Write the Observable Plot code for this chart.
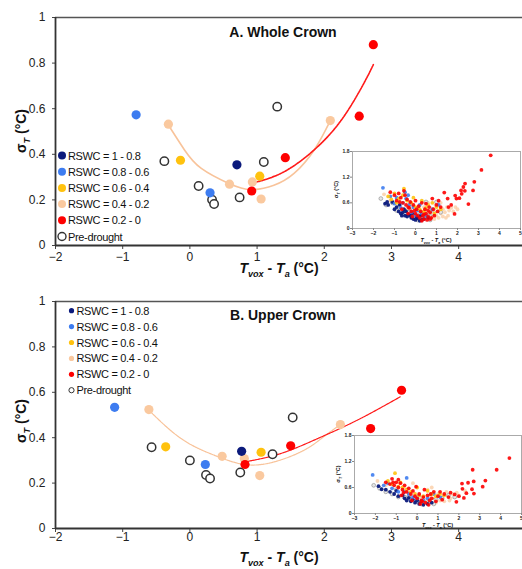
<!DOCTYPE html>
<html><head><meta charset="utf-8">
<script src="https://cdn.jsdelivr.net/npm/d3@7"></script>
<script src="https://cdn.jsdelivr.net/npm/@observablehq/plot@0.6"></script>
<style>
body{margin:0;background:#fff;}
#wrap{position:relative;width:522px;height:569px;overflow:hidden;font-family:"Liberation Sans",Arial,sans-serif;}
#wrap svg{position:absolute;display:block;overflow:visible;}
</style></head><body><div id="wrap"></div>
<script>
// ---------- categories ----------
const groups = ["RSWC = 1 - 0.8","RSWC = 0.8 - 0.6","RSWC = 0.6 - 0.4","RSWC = 0.4 - 0.2","RSWC = 0.2 - 0","Pre-drought"];
const groupColors = ["#0b1a7c","#3d7cf0","#ffc20e","#fac99f","#fe0000","#ffffff"];
const xTicks = [-2,-1,0,1,2,3,4];
const yTicks = [0,0.2,0.4,0.6,0.8,1];
const insetXTicks = [-3,-2,-1,0,1,2,3,4,5];
const insetYTicks = [0,0.6,1.2,1.8];

// ---------- A. Whole Crown (group index, x, y) ----------
const wholeGroup = [5,5,5,5,5,5,5, 3,3,3,3,3, 2,2, 1,1, 0, 4,4,4,4];
const wholeX = [1.30,-0.38,1.10,0.13,0.33,0.36,0.74, -0.32,2.09,0.59,0.93,1.06, -0.14,1.04, -0.80,0.30, 0.70, 2.73,2.52,1.42,0.92];
const wholeY = [0.609,0.370,0.366,0.261,0.201,0.182,0.211, 0.532,0.548,0.269,0.279,0.204, 0.374,0.304, 0.573,0.231, 0.354, 0.881,0.567,0.385,0.239];
const wholePeachCurveX = [-0.33,-0.08,0.17,0.58,0.91,1.25,1.55,1.85,2.09];
const wholePeachCurveY = [0.533,0.419,0.338,0.272,0.245,0.264,0.316,0.419,0.548];
const wholeRedCurveX = [0.91,1.40,1.90,2.29,2.59,2.73];
const wholeRedCurveY = [0.272,0.323,0.433,0.565,0.712,0.793];

// ---------- B. Upper Crown ----------
const upperGroup = [5,5,5,5,5,5,5, 3,3,3,3,3, 2,2, 1,1, 0, 4,4,4,4];
const upperX = [1.53,-0.57,1.23,0.00,0.75,0.24,0.30, -0.61,2.24,0.48,0.81,1.04, -0.36,1.06, -1.12,0.23, 0.77, 3.15,2.69,1.50,0.82];
const upperY = [0.489,0.358,0.327,0.300,0.247,0.236,0.220, 0.524,0.458,0.318,0.308,0.233, 0.360,0.336, 0.534,0.282, 0.340, 0.609,0.440,0.364,0.282];
const upperPeachCurveX = [-0.62,-0.13,0.36,0.81,1.25,1.70,1.99,2.24];
const upperPeachCurveY = [0.524,0.396,0.323,0.282,0.293,0.345,0.404,0.458];
const upperRedCurveX = [0.81,1.35,1.90,2.49,3.13];
const upperRedCurveY = [0.293,0.330,0.396,0.477,0.580];

// ---------- inset A (all observations) ----------
const insetWholeNavy = [[-1.45,0.58],[-1.35,0.62],[-1.3,0.55],[-1.0,0.45],[-0.9,0.5],[-0.8,0.4],[-0.7,0.35],[-0.6,0.38],[-0.5,0.3],[-0.4,0.28],[-0.35,0.33],[-0.2,0.25],[-0.1,0.22],[0,0.2],[0.1,0.24],[0.2,0.18],[0.3,0.2],[-0.55,0.45],[-0.25,0.3],[0.05,0.28],[0.4,0.22],[0.6,0.25],[-0.75,0.55],[-1.1,0.62],[-0.65,0.3],[-0.15,0.35],[0.25,0.3],[-0.45,0.4]];
const insetWholeBlue = [[-1.55,0.95],[-1.2,0.75],[-0.9,0.72],[-0.6,0.6],[-0.45,0.7],[-0.3,0.55],[-0.1,0.5],[0.1,0.42],[-0.7,0.48],[-1.0,0.58],[0.3,0.35],[0.5,0.3],[-0.2,0.38],[0.8,0.45],[1.1,0.55],[-0.5,0.85],[0,0.32],[-0.35,0.78],[0.2,0.55]];
const insetWholeYellow = [[-0.55,0.93],[-1.3,0.75],[-1.0,0.82],[-0.8,0.7],[-0.6,0.78],[-0.4,0.65],[-0.2,0.6],[0,0.5],[0.2,0.45],[0.4,0.4],[0.6,0.55],[0.8,0.6],[1.0,0.5],[-0.9,0.6],[0.3,0.65],[-0.1,0.72],[0.9,0.35],[1.2,0.45],[-1.15,0.68],[0.5,0.48]];
const insetWholePeach = [[-1.5,0.8],[-1.2,0.65],[0.3,0.3],[0.5,0.25],[0.6,0.35],[0.7,0.2],[0.8,0.28],[0.9,0.38],[1.0,0.3],[1.1,0.42],[1.2,0.35],[1.3,0.45],[1.4,0.38],[1.5,0.5],[1.6,0.42],[1.7,0.48],[1.8,0.4],[1.9,0.5],[0.2,0.4],[0.4,0.5],[0.6,0.6],[0.1,0.22],[-0.3,0.45],[0.9,0.22],[1.1,0.25],[1.3,0.28],[0.7,0.48],[1.55,0.3],[2.0,0.45],[1.2,0.6],[-0.8,0.6],[1.45,0.25],[0.95,0.55]];
const insetWholeRed = [[-1.2,0.85],[-1.0,0.78],[-0.9,0.65],[-0.8,0.82],[-0.7,0.72],[-0.6,0.6],[-0.5,0.78],[-0.45,0.55],[-0.4,0.68],[-0.3,0.48],[-0.25,0.62],[-0.2,0.4],[-0.1,0.55],[0,0.35],[0.05,0.45],[0.1,0.3],[0.15,0.52],[0.2,0.25],[0.25,0.4],[0.3,0.6],[0.35,0.3],[0.4,0.22],[0.45,0.45],[0.5,0.35],[0.55,0.2],[0.6,0.28],[0.65,0.5],[0.7,0.38],[0.75,0.25],[0.8,0.7],[0.85,0.45],[0.9,0.3],[1.0,0.55],[1.05,0.4],[1.1,0.65],[1.2,0.5],[-0.65,0.45],[-0.35,0.35],[0.0,0.65],[0.5,0.58],[-0.15,0.28],[0.3,0.18],[0.6,0.42],[-0.55,0.88],[-0.75,0.62],[-0.05,0.42],[0.4,0.33],[0.7,0.22],[-0.35,0.5],
  [3.58,1.71],[3.14,1.37],[2.80,1.09],[2.74,0.89],[2.36,1.05],[2.28,0.97],[2.17,0.89],[2.2,0.81],[2.09,0.71],[2.52,0.57],[1.89,0.77],[1.95,0.7],[1.53,0.70],[1.37,0.84],[1.57,0.5],[1.86,0.34],[1.7,0.55],[2.35,0.88]];
const insetWholeGray = [[-1.65,0.7],[-1.4,0.55],[-1.1,0.6],[-0.8,0.5],[-0.5,0.42],[-0.3,0.38],[0,0.28],[0.2,0.32],[0.4,0.25],[0.6,0.3],[0.8,0.35],[1.0,0.62],[0.5,0.62],[-0.9,0.42],[0.1,0.2],[0.7,0.2],[1.2,0.38],[-0.2,0.5]];

// ---------- inset B ----------
const insetUpperNavy = [[-1.85,0.63],[-1.7,0.56],[-1.5,0.55],[-1.3,0.5],[-1.1,0.45],[-0.9,0.4],[-0.7,0.42],[-0.5,0.3],[-0.3,0.28],[-0.1,0.25],[0.1,0.22],[0.3,0.2],[0.5,0.22],[-0.6,0.35],[-0.2,0.32],[0.2,0.28],[-1.0,0.52],[0.7,0.25],[-0.4,0.36],[0.0,0.3]];
const insetUpperBlue = [[-2.13,0.89],[-1.6,0.65],[-1.2,0.58],[-0.9,0.5],[-0.6,0.5],[-0.4,0.45],[-0.2,0.38],[0,0.35],[0.3,0.3],[-0.5,0.82],[0.5,0.35],[0.8,0.45],[-1.4,0.7],[0.1,0.42],[1.1,0.38]];
const insetUpperYellow = [[-1.06,0.93],[-1.4,0.75],[-1.2,0.68],[-0.9,0.62],[-0.7,0.6],[-0.5,0.55],[-0.3,0.5],[-0.1,0.45],[0.1,0.42],[0.3,0.4],[0.5,0.52],[0.7,0.45],[0.9,0.4],[1.1,0.45],[1.3,0.42],[-0.8,0.72],[0.0,0.6]];
const insetUpperPeach = [[-1.9,0.75],[-1.5,0.65],[-0.6,0.6],[-0.2,0.7],[0.2,0.35],[0.4,0.3],[0.6,0.4],[0.8,0.35],[1.0,0.45],[1.2,0.38],[1.4,0.5],[1.5,0.4],[1.6,0.35],[1.7,0.45],[1.8,0.38],[1.9,0.48],[2.0,0.42],[2.3,0.52],[0.9,0.25],[1.1,0.3],[1.3,0.28],[0.5,0.55],[0.7,0.6],[-0.4,0.45],[0.0,0.3],[1.55,0.3]];
const insetUpperRed = [[-1.5,0.72],[-1.3,0.68],[-1.2,0.8],[-1.1,0.65],[-1.0,0.72],[-0.9,0.6],[-0.8,0.7],[-0.7,0.55],[-0.6,0.65],[-0.5,0.5],[-0.4,0.58],[-0.3,0.45],[-0.2,0.52],[-0.1,0.4],[0,0.35],[0.1,0.45],[0.2,0.3],[0.3,0.38],[0.4,0.25],[0.5,0.42],[0.6,0.3],[0.7,0.35],[0.8,0.5],[0.9,0.28],[1.0,0.4],[1.1,0.5],[1.2,0.32],[1.3,0.45],[1.5,0.38],[1.6,0.48],[-0.75,0.42],[-0.25,0.3],[0.15,0.22],[0.55,0.2],[0.35,0.55],[-0.05,0.62],[-0.9,0.78],[0.65,0.45],[-1.15,0.72],[-0.65,0.48],[0.25,0.28],
  [4.42,1.28],[3.81,1.01],[2.66,1.01],[3.27,0.76],[3.14,0.62],[2.71,0.74],[2.44,0.71],[2.15,0.69],[2.17,0.57],[2.63,0.56],[2.72,0.46],[2.36,0.47],[2.24,0.36],[1.88,0.27],[1.8,0.44],[2.0,0.4]];
const insetUpperGray = [[-2.08,0.65],[-1.8,0.58],[-1.5,0.5],[-1.2,0.45],[-0.9,0.38],[-0.6,0.38],[-0.3,0.32],[0,0.28],[0.3,0.25],[0.6,0.28],[0.9,0.32],[1.2,0.35],[1.5,0.42],[-0.4,0.4],[0.2,0.22],[0.8,0.22],[1.8,0.38],[-1.0,0.55]];

// ---------- helpers ----------
const FONT = "'Liberation Sans', Arial, sans-serif";
const wrap = document.getElementById("wrap");

function rich(sel, x, y, parts, size, rotate) {
  const t = sel.append("text")
    .attr("text-anchor","middle").attr("font-weight","bold")
    .attr("font-size", size).attr("fill","#111").attr("font-family", FONT);
  if (rotate) t.attr("transform", `translate(${x},${y}) rotate(-90)`);
  else t.attr("x", x).attr("y", y);
  let shift = 0;
  for (const p of parts) {
    const want = p.sub ? size * 0.3 : 0;
    const ts = t.append("tspan").text(p.t)
      .attr("dy", want - shift)
      .attr("font-size", p.sub ? size * 0.65 : size);
    if (p.it) ts.attr("font-style","italic");
    shift = want;
  }
  return t;
}
const xLabelParts = [{t:"T",it:1},{t:"vox",it:1,sub:1},{t:" - "},{t:"T",it:1},{t:"a",it:1,sub:1},{t:" (°C)"}];
const yLabelParts = [{t:"σ"},{t:"T",it:1,sub:1},{t:" (°C)"}];

function panel(o) {
  const data = o.gx.map((g,i) => ({g, x:o.xs[i], y:o.ys[i]}));
  const order = [5,3,2,1,0,4];
  data.sort((a,b) => order.indexOf(a.g) - order.indexOf(b.g));
  const peach = o.pcx.map((x,i) => ({x, y:o.pcy[i]}));
  const red = o.rcx.map((x,i) => ({x, y:o.rcy[i]}));
  const svg = Plot.plot({
    width: 522, height: o.height,
    marginLeft: 55, marginRight: 0, marginTop: o.marginTop, marginBottom: o.marginBottom,
    style: {fontFamily: FONT, fontSize: "12px", color: "#222", background: "transparent"},
    x: {domain: [-2, 4.95]},
    y: {domain: [0, 1]},
    marks: [
      Plot.ruleY([1], {stroke:"#555", strokeWidth:1.3}),
      Plot.axisY({ticks: yTicks, tickSize: 3, tickPadding: 7, label: null, tickFormat: d => d3.format("~g")(d), stroke:"#444"}),
      Plot.axisX({ticks: xTicks, tickSize: 4, tickPadding: o.tickPad, label: null, tickFormat: d => d3.format("~g")(d), stroke:"#444"}),
      Plot.ruleX([-2], {stroke:"#333", strokeWidth:1.8}),
      Plot.ruleY([0], {stroke:"#333", strokeWidth:1.8}),
      Plot.line(peach, {x:"x", y:"y", curve:"natural", stroke:"#f8c39a", strokeWidth: o.curveW, strokeDasharray: o.peachDash}),
      Plot.line(red, {x:"x", y:"y", curve:"natural", stroke:"#ff1a1a", strokeWidth: o.curveW, strokeDasharray: "2,0.8"}),
      Plot.dot(data.filter(d => d.g === 5), {x:"x", y:"y", r:4.2, fill:"white", stroke:"#333", strokeWidth:1.5}),
      Plot.dot(data.filter(d => d.g !== 5), {x:"x", y:"y", r:4.6, fill: d => groupColors[d.g]})
    ]
  });
  svg.style.left = "0px"; svg.style.top = o.top + "px";
  wrap.appendChild(svg);
  const s = d3.select(svg);
  s.append("text").attr("x", 283).attr("y", o.titleY).attr("text-anchor","middle")
    .attr("font-weight","bold").attr("font-size",14).attr("fill","#111").attr("font-family",FONT).text(o.title);
  rich(s, 279, o.xLabelY, xLabelParts, 14, false);
  rich(s, 26, o.yLabelY, yLabelParts, 14, true);
  groups.forEach((g,i) => {
    const cy = o.legY0 + i * o.legDY;
    const c = s.append("circle").attr("cx", o.legX).attr("cy", cy).attr("r", o.legR);
    if (i === 5) c.attr("fill","white").attr("stroke","#333").attr("stroke-width", o.legR > 3 ? 1.4 : 1);
    else c.attr("fill", groupColors[i]);
    s.append("text").attr("x", o.legTX).attr("y", cy + 4).attr("font-size", 11)
      .attr("text-anchor","start")
      .attr("letter-spacing","-0.35").attr("fill","#111").attr("font-family",FONT).text(g);
  });
}

function inset(o) {
  const sets = [
    {d:o.peach, c:groupColors[3], op:0.75},
    {d:o.gray, c:"gray"},
    {d:o.navy, c:groupColors[0], op:0.95},
    {d:o.blue, c:groupColors[1], op:0.9},
    {d:o.yellow, c:groupColors[2], op:0.9},
    {d:o.red, c:groupColors[4], op:0.9}
  ];
  const marks = [
    Plot.frame({stroke:"#aaa", fill:"white", strokeWidth:1}),
    Plot.axisX({ticks: insetXTicks, tickSize: 2, tickPadding: 1, label: null, fontSize: 5, stroke:"#888", tickFormat: d => d3.format("~g")(d)}),
    Plot.axisY({ticks: insetYTicks, tickSize: 2, tickPadding: 1, label: null, fontSize: 5, stroke:"#888", tickFormat: d => d === 0 ? "0" : d3.format(".1f")(d)})
  ];
  for (const s of sets) {
    if (s.c === "gray") marks.push(Plot.dot(s.d, {x:"0", y:"1", r:1.9, fill:"#e6e6e6", stroke:"#888", strokeWidth:0.6}));
    else marks.push(Plot.dot(s.d, {x:"0", y:"1", r:1.9, fill:s.c, fillOpacity:s.op}));
  }
  const svg = Plot.plot({
    width: o.width, height: o.height,
    marginLeft: 26, marginRight: 2, marginTop: 6, marginBottom: 18,
    style: {fontFamily: FONT, fontSize: "5px", color:"#222", background:"transparent", fontWeight:"bold"},
    x: {domain: [-3, 5]},
    y: {domain: [0, 1.8]},
    marks
  });
  svg.style.left = o.left + "px"; svg.style.top = o.top + "px";
  wrap.appendChild(svg);
  const s = d3.select(svg);
  rich(s, 26 + (o.width - 28) / 2, o.height - 4, xLabelParts, 5.5, false);
  rich(s, 12, 6 + (o.height - 24) / 2, yLabelParts, 5.5, true);
}

panel({top:0, height:285, marginTop:17, marginBottom:40, tickPad:3, title:"A. Whole Crown", titleY:37,
  gx: wholeGroup, xs: wholeX, ys: wholeY,
  pcx: wholePeachCurveX, pcy: wholePeachCurveY, rcx: wholeRedCurveX, rcy: wholeRedCurveY,
  curveW: 1.6, peachDash: null,
  xLabelY: 273, yLabelY: 131,
  legX: 62, legR: 4, legTX: 68, legY0: 155.5, legDY: 16.2});

panel({top:285, height:284, marginTop:16, marginBottom:41, tickPad:0, title:"B. Upper Crown", titleY:35,
  gx: upperGroup, xs: upperX, ys: upperY,
  pcx: upperPeachCurveX, pcy: upperPeachCurveY, rcx: upperRedCurveX, rcy: upperRedCurveY,
  curveW: 1.2, peachDash: "1.5,0.8",
  xLabelY: 277, yLabelY: 136,
  legX: 71.5, legR: 2.6, legTX: 76.5, legY0: 25.7, legDY: 15.9});

inset({left: 326, top: 145, width: 196, height: 101,
  navy: insetWholeNavy, blue: insetWholeBlue, yellow: insetWholeYellow, peach: insetWholePeach, red: insetWholeRed, gray: insetWholeGray});
inset({left: 328, top: 429, width: 195, height: 102,
  navy: insetUpperNavy, blue: insetUpperBlue, yellow: insetUpperYellow, peach: insetUpperPeach, red: insetUpperRed, gray: insetUpperGray});
</script></body></html>
